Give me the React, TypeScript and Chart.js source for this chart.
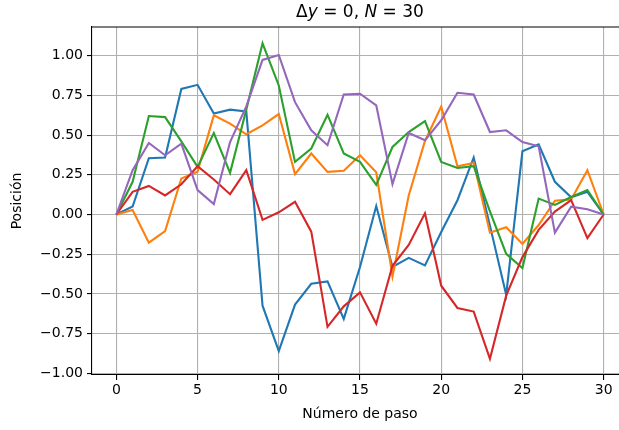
import React, { useEffect, useRef } from "react";
import { Chart, registerables } from "chart.js";

Chart.register(...registerables);

const steps = [0, 1, 2, 3, 4, 5, 6, 7, 8, 9, 10, 11, 12, 13, 14, 15, 16, 17, 18, 19, 20, 21, 22, 23, 24, 25, 26, 27, 28, 29, 30];

const blue = [0, 0.05, 0.354, 0.359, 0.79, 0.816, 0.636, 0.66, 0.649, -0.574, -0.86, -0.567, -0.436, -0.421, -0.657, -0.33, 0.053, -0.33, -0.273, -0.32, -0.11, 0.09, 0.359, -0.07, -0.505, 0.398, 0.442, 0.206, 0.108, 0.143, 0];
const orange = [0, 0.028, -0.177, -0.104, 0.227, 0.27, 0.624, 0.572, 0.505, 0.561, 0.632, 0.254, 0.384, 0.268, 0.275, 0.373, 0.266, -0.39, 0.12, 0.463, 0.68, 0.304, 0.325, -0.114, -0.08, -0.185, -0.066, 0.087, 0.095, 0.279, 0];
const green = [0, 0.206, 0.62, 0.613, 0.46, 0.3, 0.513, 0.262, 0.66, 1.077, 0.812, 0.331, 0.415, 0.628, 0.384, 0.331, 0.187, 0.425, 0.519, 0.588, 0.331, 0.293, 0.304, 0.02, -0.248, -0.337, 0.1, 0.06, 0.11, 0.154, 0];
const red = [0, 0.143, 0.18, 0.12, 0.19, 0.304, 0.22, 0.128, 0.279, -0.034, 0.014, 0.08, -0.108, -0.707, -0.578, -0.49, -0.687, -0.323, -0.191, 0.008, -0.448, -0.588, -0.611, -0.908, -0.511, -0.268, -0.097, 0.018, 0.091, -0.149, 0];
const purple = [0, 0.279, 0.45, 0.373, 0.446, 0.154, 0.066, 0.456, 0.68, 0.973, 1.004, 0.707, 0.53, 0.436, 0.755, 0.76, 0.687, 0.191, 0.513, 0.467, 0.593, 0.766, 0.755, 0.519, 0.53, 0.456, 0.429, -0.114, 0.049, 0.033, 0];

const seriesList = [blue, orange, green, red, purple];
const colors = ["#1f77b4", "#ff7f0e", "#2ca02c", "#d62728", "#9467bd"];

const xTicks = [0, 5, 10, 15, 20, 25, 30];
const yTicks = [-1, -0.75, -0.5, -0.25, 0, 0.25, 0.5, 0.75, 1];

const titleParts: [string, boolean][] = [["Δ", false], ["y", true], [" = 0, ", false], ["N", true], [" = 30", false]];
const xLabel = "Número de paso";
const yLabel = "Posición";

const FONT = "'DejaVu Sans', sans-serif";
const CW = 680;

export default function App() {
  const ref = useRef<HTMLCanvasElement>(null);
  useEffect(() => {
    const canvas = ref.current!;
    const textPlugin = {
      id: "textPlugin",
      afterDraw(chart: any) {
        const ctx = chart.ctx;
        const a = chart.chartArea;
        ctx.save();
        ctx.strokeStyle = "#000";
        ctx.lineWidth = 1.2;
        ctx.beginPath();
        ctx.moveTo(a.left, a.top);
        ctx.lineTo(a.right, a.top);
        ctx.stroke();
        ctx.fillStyle = "#000";
        const cx = (a.left + a.right) / 2;
        ctx.textBaseline = "middle";
        let total = 0;
        for (const [t, it] of titleParts) {
          ctx.font = `${it ? "italic " : ""}17px ${FONT}`;
          total += ctx.measureText(t).width;
        }
        let x = cx - total / 2;
        ctx.textAlign = "left";
        for (const [t, it] of titleParts) {
          ctx.font = `${it ? "italic " : ""}17px ${FONT}`;
          ctx.fillText(t, x, 13);
          x += ctx.measureText(t).width;
        }
        ctx.font = `14px ${FONT}`;
        ctx.textAlign = "center";
        ctx.fillText(xLabel, cx, 414);
        ctx.translate(17, (a.top + a.bottom) / 2);
        ctx.rotate(-Math.PI / 2);
        ctx.fillText(yLabel, 0, 0);
        ctx.restore();
      },
    };
    const chart = new Chart(canvas, {
      type: "line",
      data: {
        datasets: seriesList.map((s, i) => ({
          data: s.map((v, j) => ({ x: steps[j], y: v })),
          borderColor: colors[i],
          backgroundColor: colors[i],
          borderWidth: 2.1,
          pointRadius: 0,
          tension: 0,
          fill: false,
          order: 4 - i,
        })),
      },
      options: {
        animation: false,
        responsive: false,
        devicePixelRatio: 1,
        layout: { padding: { top: 27, left: 0, right: CW - 628, bottom: 0 } },
        plugins: { legend: { display: false }, title: { display: false }, tooltip: { enabled: false } },
        scales: {
          x: {
            type: "linear",
            min: -1.5,
            max: 31.5,
            afterFit: (s: any) => { s.height = 55; },
            afterBuildTicks: (s: any) => { s.ticks = xTicks.map((v) => ({ value: v })); },
            ticks: { font: { family: FONT, size: 14 }, color: "#000", padding: 2, maxRotation: 0, callback: (v: any) => String(v) },
            grid: { color: "#b0b0b0", lineWidth: 1.1, tickColor: "#000", tickLength: 5, drawTicks: true },
            border: { color: "#000", width: 1.1 },
          },
          y: {
            type: "linear",
            min: -1.01,
            max: 1.18,
            afterFit: (s: any) => { s.width = 92; },
            afterBuildTicks: (s: any) => { s.ticks = yTicks.map((v) => ({ value: v })); },
            ticks: {
              font: { family: FONT, size: 14 },
              color: "#000",
              padding: 4,
              callback: (v: any) => Number(v).toFixed(2).replace("-", "\u2212"),
            },
            grid: { color: "#b0b0b0", lineWidth: 1.1, tickColor: "#000", tickLength: 5, drawTicks: true },
            border: { color: "#000", width: 1.1 },
          },
        },
      },
      plugins: [textPlugin],
    });
    return () => chart.destroy();
  }, []);
  return (
    <div style={{ position: "absolute", left: 0, top: 0, width: 619, height: 430, overflow: "hidden", background: "#fff" }}>
      <canvas ref={ref} width={CW} height={430} style={{ width: CW, height: 430, display: "block" }} />
    </div>
  );
}
